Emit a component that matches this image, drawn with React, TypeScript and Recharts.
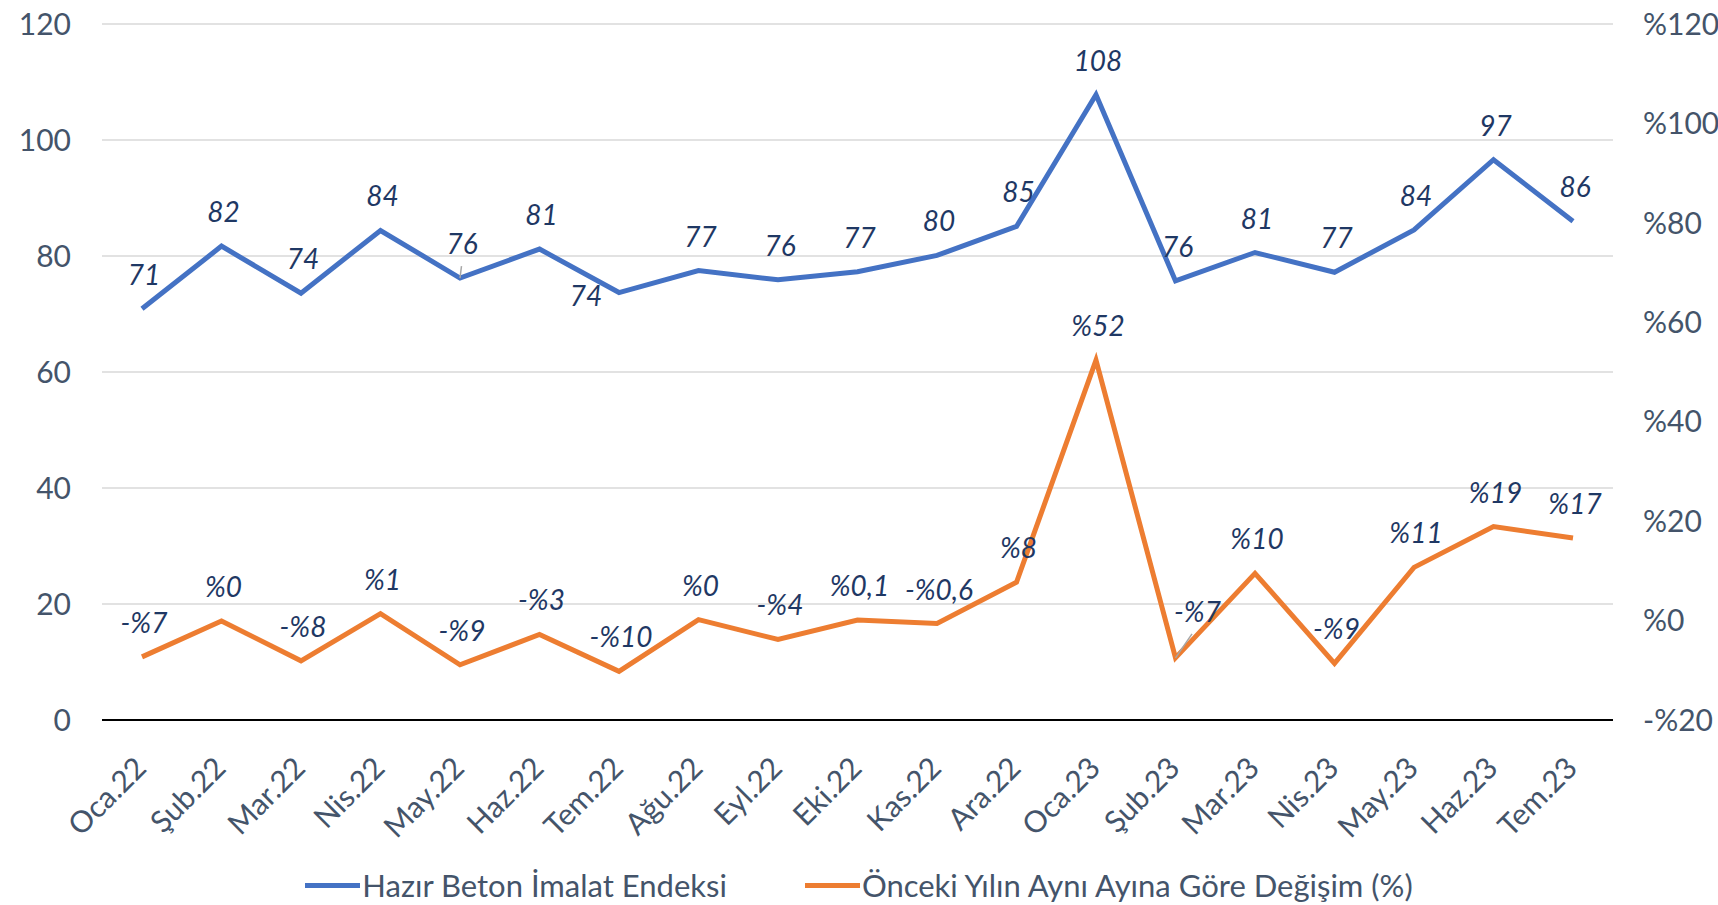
import React from "react";
import { LineChart, Line, XAxis, YAxis, CartesianGrid, Legend, LabelList } from "recharts";

const months = [
  "Oca.22", "Şub.22", "Mar.22", "Nis.22", "May.22", "Haz.22", "Tem.22", "Ağu.22", "Eyl.22", "Eki.22",
  "Kas.22", "Ara.22", "Oca.23", "Şub.23", "Mar.23", "Nis.23", "May.23", "Haz.23", "Tem.23",
];
const indexValues = [
  70.9, 81.7, 73.6, 84.4, 76.2, 81.2, 73.7, 77.5, 75.9, 77.3, 80.1, 85.1, 107.8, 75.7, 80.6, 77.2, 84.5, 96.6, 86.0,
];
const indexLabels = [
  "71", "82", "74", "84", "76", "81", "74", "77", "76", "77", "80", "85", "108", "76", "81", "77", "84", "97", "86",
];
const yoyValues = [
  -7.3, -0.1, -8.1, 1.4, -8.9, -2.8, -10.2, 0.2, -3.8, 0.1, -0.6, 7.7, 52.4, -7.5, 9.5, -8.6, 10.7, 18.9, 16.6,
];
const yoyLabels = [
  "-%7", "%0", "-%8", "%1", "-%9", "-%3", "-%10", "%0", "-%4", "%0,1", "-%0,6", "%8", "%52", "-%7", "%10", "-%9",
  "%11", "%19", "%17",
];
const leftTicks = [0, 20, 40, 60, 80, 100, 120];
const rightTicks = [-20, 0, 20, 40, 60, 80, 100, 120];

const chartData = months.map((month, i) => ({
  month,
  index: indexValues[i],
  yoy: yoyValues[i],
}));

const FONT = "Lato, 'Open Sans', sans-serif";
const BLUE = "#4472C4";
const ORANGE = "#ED7D31";
const AXIS_TEXT = "#44546A";
const LABEL_TEXT = "#1F3864";

type Nudge = { dx: number; dy: number; leader?: boolean };

// Excel moved a few labels by hand
const indexNudges: Record<number, Nudge> = {
  4: { dx: 2, dy: -24, leader: true },
  6: { dx: -33, dy: 13 },
};
const yoyNudges: Record<number, Nudge> = {
  13: { dx: 22, dy: -36, leader: true },
};

const makeLabel = (labels: string[], nudges: Record<number, Nudge>) => (props: any) => {
  const { x, y, index } = props;
  if (x == null || y == null) return null;
  const n = nudges[index] ?? { dx: 2, dy: -24 };
  return (
    <g>
      {n.leader && (
        <line x1={x} y1={y} x2={x + n.dx * 0.75} y2={y + n.dy + 12} stroke="#A6A6A6" strokeWidth={1.5} />
      )}
      <text
        x={x + n.dx}
        y={y + n.dy}
        textAnchor="middle"
        fontFamily={FONT}
        fontStyle="italic"
        fontSize={28}
        fill={LABEL_TEXT}
      >
        {labels[index]}
      </text>
    </g>
  );
};

const MonthTick = (props: any) => {
  const { x, y, payload } = props;
  const tx = x + 6;
  const ty = y + 42;
  return (
    <text
      x={tx}
      y={ty}
      transform={`rotate(-45, ${tx}, ${ty})`}
      textAnchor="end"
      fill={AXIS_TEXT}
      fontSize={30}
      fontFamily={FONT}
    >
      {payload.value}
    </text>
  );
};

const pct = (v: number) => (v < 0 ? `-%${-v}` : `%${v}`);

const renderLegend = () => {
  const items = [
    { color: BLUE, text: "Hazır Beton İmalat Endeksi" },
    { color: ORANGE, text: "Önceki Yılın Aynı Ayına Göre Değişim (%)" },
  ];
  return (
    <div
      style={{
        display: "flex",
        justifyContent: "center",
        alignItems: "center",
        height: 50,
        paddingTop: 10,
        boxSizing: "border-box",
        fontFamily: FONT,
        fontSize: 31,
        color: AXIS_TEXT,
        gap: 78,
      }}
    >
      {items.map((it) => (
        <div key={it.text} style={{ display: "flex", alignItems: "center" }}>
          <span style={{ display: "inline-block", width: 55, height: 5, background: it.color, marginRight: 2 }} />
          <span>{it.text}</span>
        </div>
      ))}
    </div>
  );
};

export default function App() {
  return (
    <div style={{ position: "absolute", left: 0, top: 0, width: 1718, height: 905, background: "#fff" }}>
      <LineChart width={1718} height={905} data={chartData} margin={{ top: 24, right: 0, left: 0, bottom: 0 }}>
        <CartesianGrid yAxisId="left" vertical={false} stroke="#D9D9D9" strokeWidth={1.5} />
        <XAxis
          dataKey="month"
          interval={0}
          padding={{ left: 40, right: 40 }}
          height={135}
          tickLine={false}
          axisLine={{ stroke: "#000", strokeWidth: 2 }}
          tick={<MonthTick />}
        />
        <YAxis
          yAxisId="left"
          domain={[0, 120]}
          ticks={leftTicks}
          width={102}
          axisLine={false}
          tickLine={false}
          tickMargin={25}
          tick={{ fill: AXIS_TEXT, fontSize: 30, fontFamily: FONT }}
        />
        <YAxis
          yAxisId="right"
          orientation="right"
          domain={[-20, 120]}
          ticks={rightTicks}
          width={105}
          axisLine={false}
          tickLine={false}
          tickMargin={24}
          tickFormatter={pct}
          tick={{ fill: AXIS_TEXT, fontSize: 30, fontFamily: FONT }}
        />
        <Line
          yAxisId="left"
          type="linear"
          dataKey="index"
          stroke={BLUE}
          strokeWidth={5}
          dot={false}
          isAnimationActive={false}
        >
          <LabelList dataKey="index" content={makeLabel(indexLabels, indexNudges)} />
        </Line>
        <Line
          yAxisId="right"
          type="linear"
          dataKey="yoy"
          stroke={ORANGE}
          strokeWidth={5}
          dot={false}
          isAnimationActive={false}
        >
          <LabelList dataKey="yoy" content={makeLabel(yoyLabels, yoyNudges)} />
        </Line>
        <Legend verticalAlign="bottom" content={renderLegend} wrapperStyle={{ height: 50 }} />
      </LineChart>
    </div>
  );
}
